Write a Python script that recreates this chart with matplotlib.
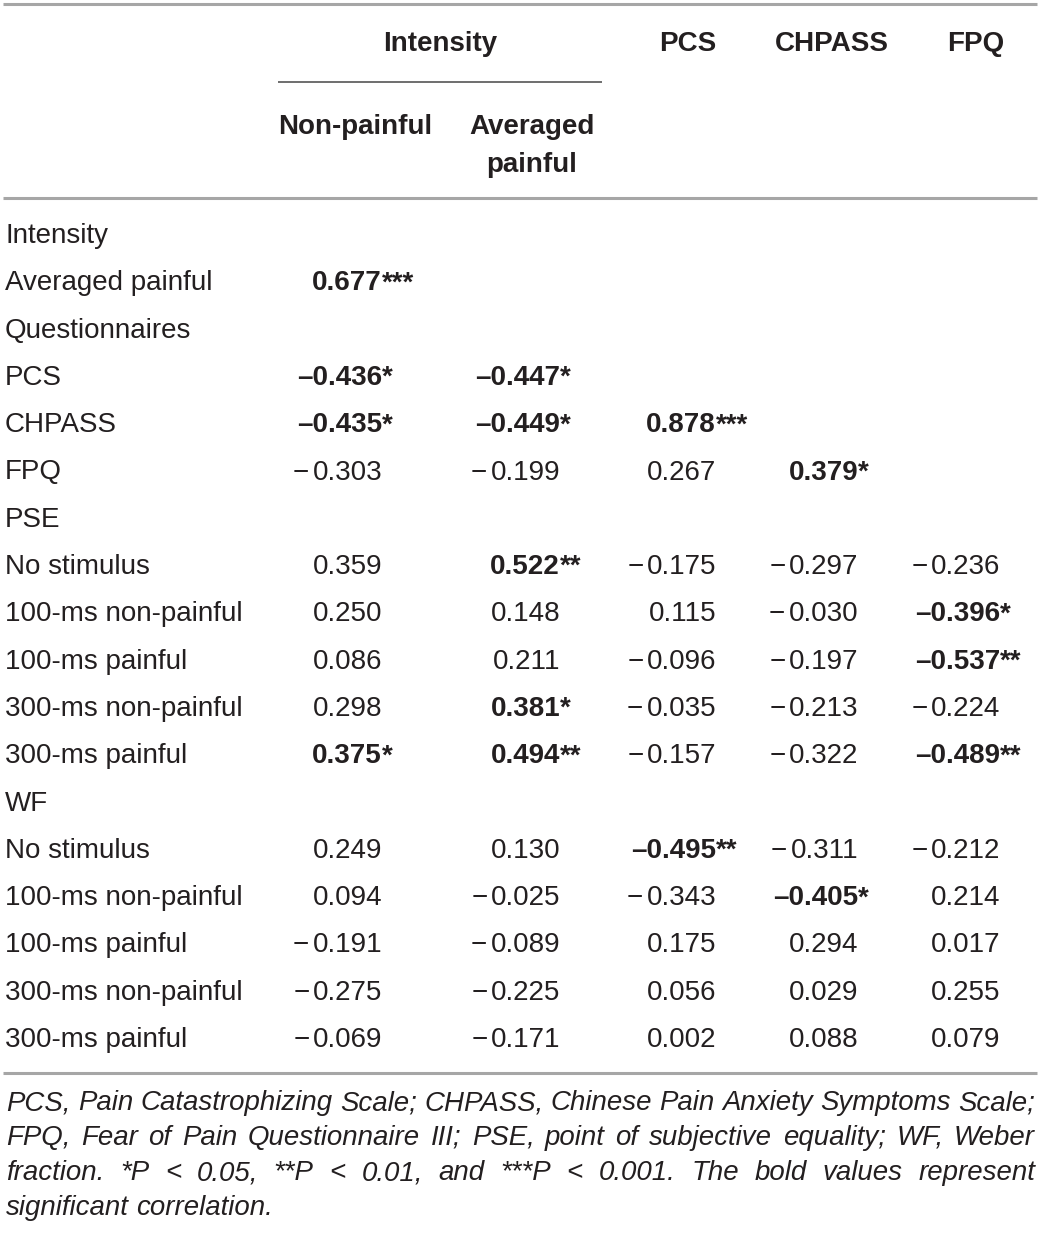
import numpy as np
import matplotlib
matplotlib.use("Agg")
import matplotlib.pyplot as plt

plt.rcParams['font.family'] = ['Liberation Sans', 'DejaVu Sans']

# column headers
col_headers = ["Non-painful", "Averaged\npainful", "PCS", "CHPASS", "FPQ"]

# row labels (None in values = group header row)
row_labels = ["Intensity", "Averaged painful", "Questionnaires", "PCS", "CHPASS", "FPQ",
              "PSE", "No stimulus", "100-ms non-painful", "100-ms painful",
              "300-ms non-painful", "300-ms painful",
              "WF", "No stimulus", "100-ms non-painful", "100-ms painful",
              "300-ms non-painful", "300-ms painful"]

n = np.nan
values = [
    None,
    [0.677, n, n, n, n],
    None,
    [-0.436, -0.447, n, n, n],
    [-0.435, -0.449, 0.878, n, n],
    [-0.303, -0.199, 0.267, 0.379, n],
    None,
    [0.359, 0.522, -0.175, -0.297, -0.236],
    [0.250, 0.148, 0.115, -0.030, -0.396],
    [0.086, 0.211, -0.096, -0.197, -0.537],
    [0.298, 0.381, -0.035, -0.213, -0.224],
    [0.375, 0.494, -0.157, -0.322, -0.489],
    None,
    [0.249, 0.130, -0.495, -0.311, -0.212],
    [0.094, -0.025, -0.343, -0.405, 0.214],
    [-0.191, -0.089, 0.175, 0.294, 0.017],
    [-0.275, -0.225, 0.056, 0.029, 0.255],
    [-0.069, -0.171, 0.002, 0.088, 0.079],
]

# number of significance stars per cell
stars = [
    None,
    [3, 0, 0, 0, 0],
    None,
    [1, 1, 0, 0, 0],
    [1, 1, 3, 0, 0],
    [0, 0, 0, 1, 0],
    None,
    [0, 2, 0, 0, 0],
    [0, 0, 0, 0, 1],
    [0, 0, 0, 0, 2],
    [0, 1, 0, 0, 0],
    [1, 2, 0, 0, 2],
    None,
    [0, 0, 2, 0, 0],
    [0, 0, 0, 1, 0],
    [0, 0, 0, 0, 0],
    [0, 0, 0, 0, 0],
    [0, 0, 0, 0, 0],
]

footnote = ["PCS, Pain Catastrophizing Scale; CHPASS, Chinese Pain Anxiety Symptoms Scale;",
            "FPQ, Fear of Pain Questionnaire III; PSE, point of subjective equality; WF, Weber",
            "fraction. *P < 0.05, **P < 0.01, and ***P < 0.001. The bold values represent",
            "significant correlation."]

W, H = 1041, 1234
txt = '#231f20'
rule = '#a6a6a6'
fs = 20

fig = plt.figure(figsize=(W / 100, H / 100), dpi=100)
ax = fig.add_axes([0, 0, 1, 1])
ax.set_xlim(0, W)
ax.set_ylim(H, 0)
ax.axis('off')
renderer = fig.canvas.get_renderer()

col_center = [355, 532, 688, 832, 976]
col_right = [382, 560, 716, 858, 1000]

# rules
ax.plot([3, 1037], [4, 4], color=rule, lw=2.2, solid_capstyle='butt')
ax.plot([3, 1037], [198, 198], color=rule, lw=2.2, solid_capstyle='butt')
ax.plot([3, 1037], [1073, 1073], color=rule, lw=2.2, solid_capstyle='butt')
ax.plot([278, 602], [82, 82], color='#6e6e6e', lw=1.4, solid_capstyle='butt')

# headers
ax.text(440, 51, "Intensity", ha='center', va='baseline', fontsize=fs, fontweight='bold', color=txt)
for j in (2, 3, 4):
    ax.text(col_center[j], 51, col_headers[j], ha='center', va='baseline', fontsize=fs,
            fontweight='bold', color=txt)
ax.text(col_center[0], 134, col_headers[0], ha='center', va='baseline', fontsize=fs,
        fontweight='bold', color=txt)
for k, part in enumerate(col_headers[1].split("\n")):
    ax.text(col_center[1], 134 + 38 * k, part, ha='center', va='baseline', fontsize=fs,
            fontweight='bold', color=txt)

# body
y0, dy = 233, 47.3
for i, lab in enumerate(row_labels):
    yb = y0 + i * dy + 10
    ax.text(5, yb, lab, ha='left', va='baseline', fontsize=fs, color=txt)
    if values[i] is None:
        continue
    for j, v in enumerate(values[i]):
        if np.isnan(v):
            continue
        s = stars[i][j]
        if s > 0:
            num = ("–" if v < 0 else "") + f"{abs(v):.3f}"
            ax.text(col_right[j], yb, num, ha='right', va='baseline', fontsize=fs,
                    fontweight='bold', color=txt)
            ax.text(col_right[j], yb, "*" * s, ha='left', va='baseline', fontsize=fs,
                    fontweight='bold', color=txt)
        else:
            t = ax.text(col_right[j], yb, f"{abs(v):.3f}", ha='right', va='baseline',
                        fontsize=fs, color=txt)
            if v < 0:
                x_left = col_right[j] - t.get_window_extent(renderer=renderer).width
                ax.text(x_left - 3, yb, "−", ha='right', va='baseline', fontsize=fs, color=txt)

# footnote, justified
left, right = 6, 1035
base_fs = 19.5
fn_base = [1110, 1145, 1180, 1215]


def word_width(w, size):
    t = ax.text(0, 0, w, fontsize=size, style='italic')
    bb = t.get_window_extent(renderer=renderer)
    t.remove()
    return bb.width


# grow the italic size until the tightest justified line has small gaps
min_gap = 7
fits = []
for line in footnote[:3]:
    words = line.split()
    sw = sum(word_width(w, base_fs) for w in words)
    fits.append(base_fs * (right - left - min_gap * (len(words) - 1)) / sw)
fn_fs = min(min(fits), 22)

for k, line in enumerate(footnote):
    words = line.split()
    widths = [word_width(w, fn_fs) for w in words]
    if k < len(footnote) - 1:
        gap = (right - left - sum(widths)) / (len(words) - 1)
    else:
        gap = word_width("a b", fn_fs) - word_width("ab", fn_fs)
    x = left
    for w, wd in zip(words, widths):
        ax.text(x, fn_base[k], w, ha='left', va='baseline', fontsize=fn_fs, style='italic', color=txt)
        x += wd + gap

fig.savefig("out.png", dpi=100)
